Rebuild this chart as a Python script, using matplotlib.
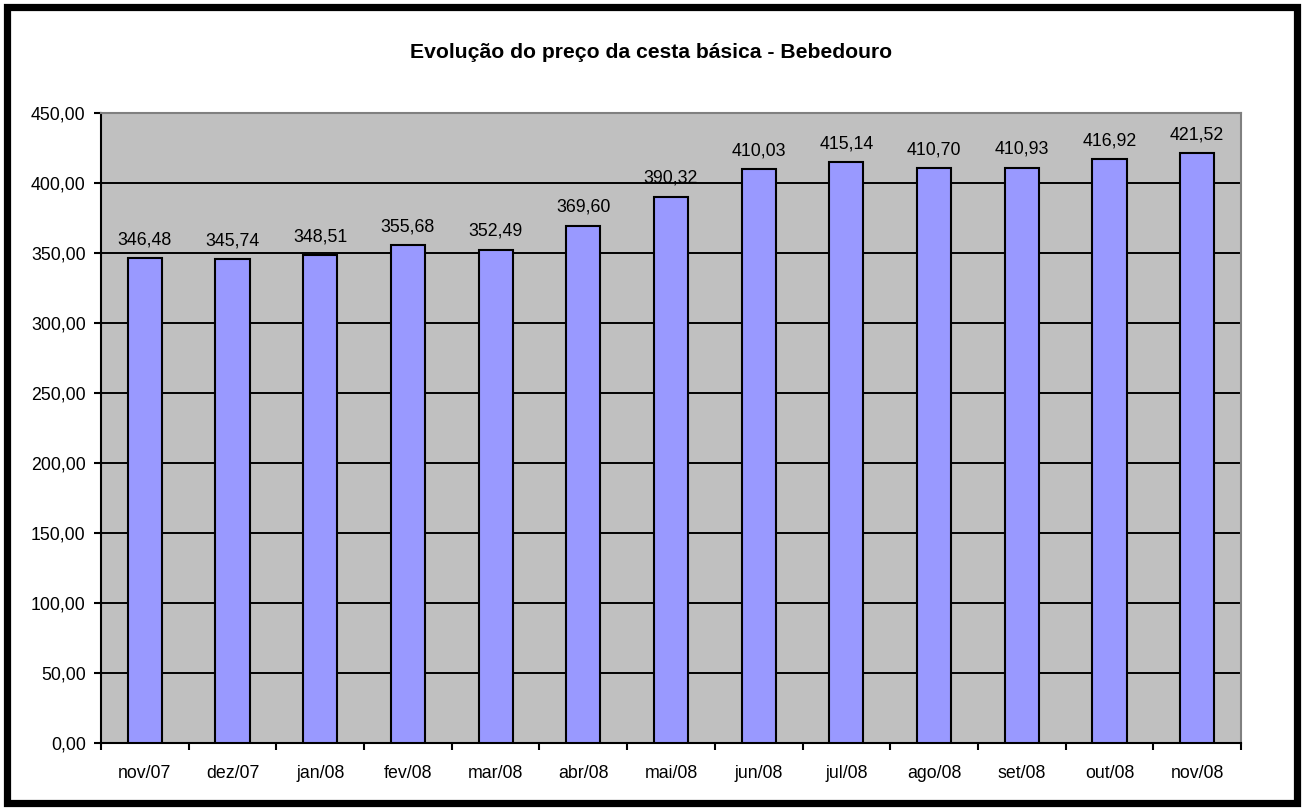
import matplotlib
matplotlib.use("Agg")
import matplotlib.pyplot as plt
from matplotlib.patches import Rectangle

plt.rcParams['font.family'] = ['Liberation Sans', 'DejaVu Sans']

# data
months = ['nov/07', 'dez/07', 'jan/08', 'fev/08', 'mar/08', 'abr/08', 'mai/08',
          'jun/08', 'jul/08', 'ago/08', 'set/08', 'out/08', 'nov/08']
prices = [346.48, 345.74, 348.51, 355.68, 352.49, 369.60, 390.32,
          410.03, 415.14, 410.70, 410.93, 416.92, 421.52]
yticks = [0, 50, 100, 150, 200, 250, 300, 350, 400, 450]

W, H = 1303, 809
fig = plt.figure(figsize=(W / 100, H / 100), dpi=100)
fig.patch.set_facecolor('white')

# thick black frame around the whole chart
fig.patches.append(Rectangle((6.5 / W, 6.5 / H), 1 - 13 / W, 1 - 13 / H,
                             transform=fig.transFigure, fill=False,
                             edgecolor='black', linewidth=5.2))

ax = fig.add_axes([101 / W, 1 - 743 / H, (1241 - 101) / W, (743 - 113) / H])
ax.set_facecolor('#C0C0C0')

x = list(range(len(months)))
bars = ax.bar(x, prices, width=0.39, color='#9999FF', edgecolor='black',
              linewidth=1.5, zorder=3)

for xi, p in zip(x, prices):
    ax.annotate(f"{p:.2f}".replace('.', ','), (xi, p), xytext=(0, 7),
                textcoords='offset points', ha='center', va='bottom',
                fontsize=12.8, zorder=4)

ax.set_xlim(-0.5, len(months) - 0.5)
ax.set_ylim(0, 450)
ax.set_yticks(yticks)
ax.set_yticklabels([f"{v:.2f}".replace('.', ',') for v in yticks])
ax.yaxis.grid(True, color='black', linewidth=1.4, zorder=1)
ax.set_axisbelow(True)

# category ticks sit on the boundaries, labels in the middle
ax.set_xticks([i - 0.5 for i in range(len(months) + 1)])
ax.set_xticklabels([])
ax.set_xticks(x, minor=True)
ax.set_xticklabels(months, minor=True)
ax.tick_params(axis='x', which='minor', length=0, pad=16, labelsize=12.8)
ax.tick_params(axis='x', which='major', length=5, width=1.5, direction='out')
ax.tick_params(axis='y', length=5, width=1.5, direction='out', pad=6,
               labelsize=12.8)

ax.spines['left'].set_color('black')
ax.spines['bottom'].set_color('black')
ax.spines['left'].set_linewidth(1.5)
ax.spines['bottom'].set_linewidth(1.5)
ax.spines['top'].set_color('#808080')
ax.spines['right'].set_color('#808080')
ax.spines['top'].set_linewidth(1.5)
ax.spines['right'].set_linewidth(1.5)

fig.text(651 / W, 1 - 53 / H, 'Evolução do preço da cesta básica - Bebedouro',
         ha='center', va='center', fontsize=15.2, fontweight='bold')

fig.savefig('out.png', dpi=100)
